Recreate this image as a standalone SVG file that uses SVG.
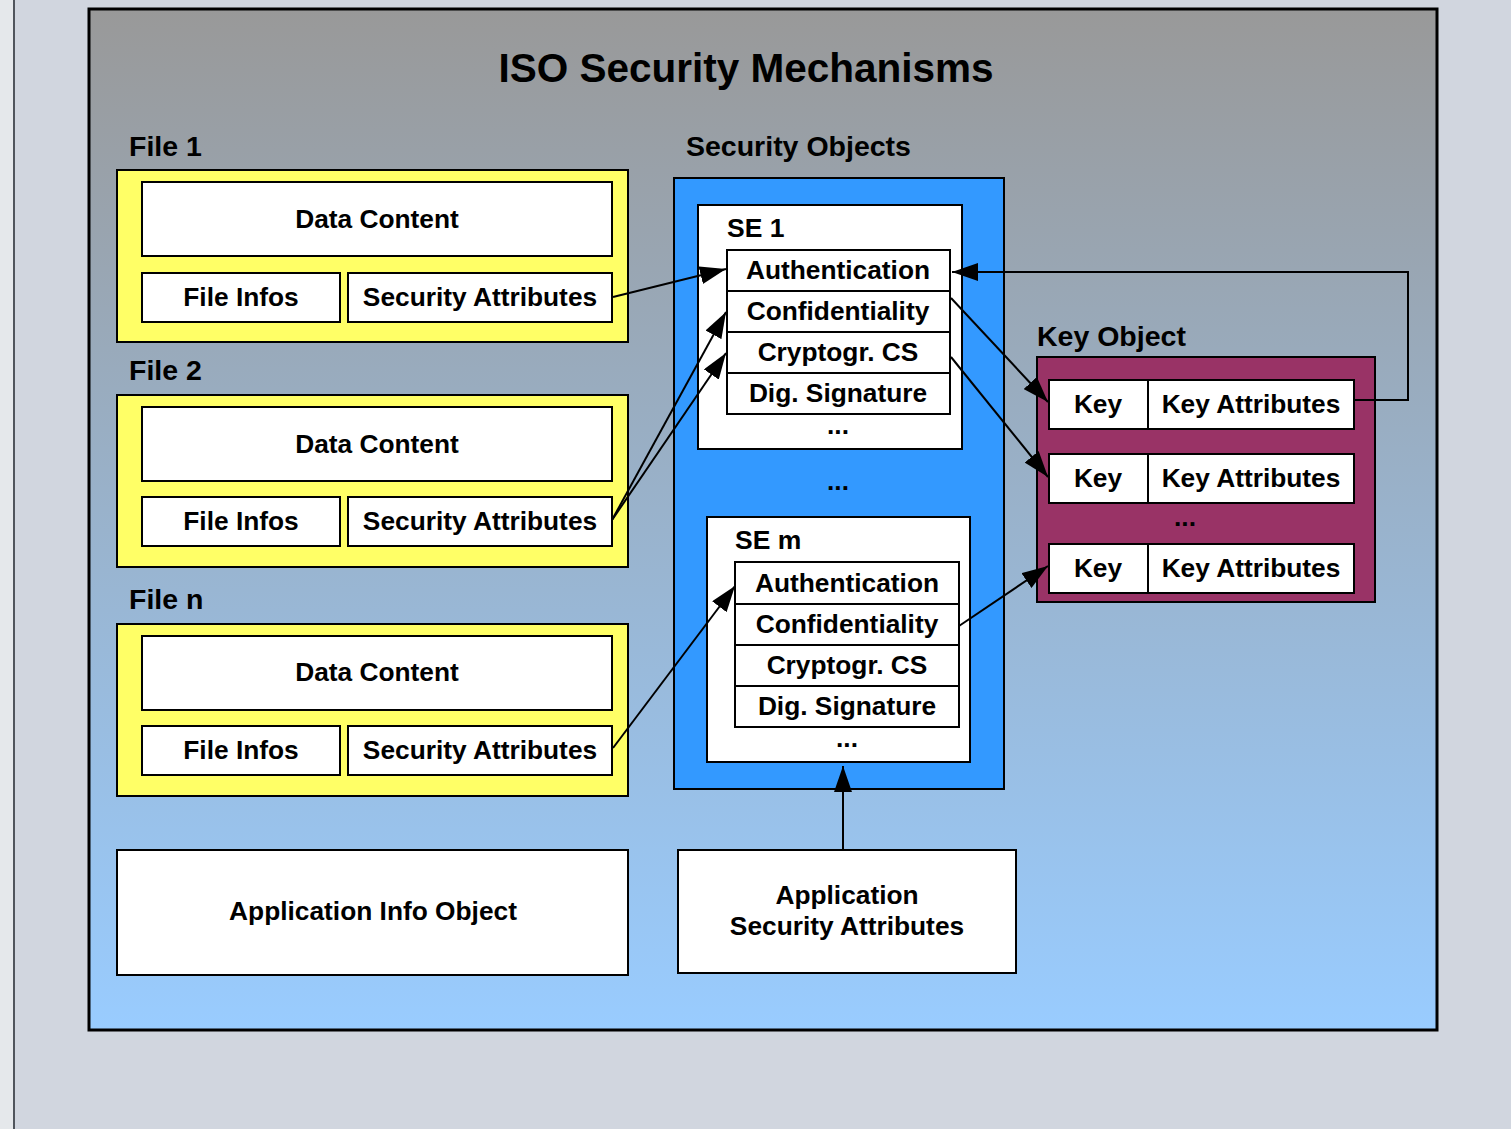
<svg xmlns="http://www.w3.org/2000/svg" width="1511" height="1129" viewBox="0 0 1511 1129">
  <defs>
    <linearGradient id="bgGrad" x1="0" y1="0" x2="0" y2="1">
      <stop offset="0" stop-color="#999999"/>
      <stop offset="1" stop-color="#99ccff"/>
    </linearGradient>
    <marker id="arrow" viewBox="0 0 26 18" refX="26" refY="9" markerWidth="26" markerHeight="18" markerUnits="userSpaceOnUse" orient="auto">
      <path d="M0,0 L26,9 L0,18 Z" fill="#000"/>
    </marker>
    <style>
      text { font-family: "Liberation Sans", Arial, sans-serif; font-weight: bold; fill: #000; }
      .title { font-size: 40.5px; text-anchor: middle; }
      .label { font-size: 28.5px; }
      .cell { font-size: 26.3px; text-anchor: middle; }
      .box { fill: #fff; stroke: #000; stroke-width: 2; }
      .file { fill: #ffff66; stroke: #000; stroke-width: 2; }
      .conn { fill: none; stroke: #000; stroke-width: 2; }
    </style>
  </defs>

  <!-- page background -->
  <rect x="0" y="0" width="1511" height="1129" fill="#d1d6df"/>
  <rect x="0" y="0" width="13" height="1129" fill="#e5e8eb"/>
  <rect x="13" y="0" width="2" height="1129" fill="#50555c"/>

  <!-- main frame -->
  <rect x="89" y="9" width="1348" height="1021" fill="url(#bgGrad)" stroke="#000" stroke-width="3"/>
  <text class="title" x="746" y="82">ISO Security Mechanisms</text>

  <!-- File 1 -->
  <g id="file1">
    <text class="label" x="129" y="156">File 1</text>
    <rect class="file" x="117" y="170" width="511" height="172"/>
    <rect class="box" x="142" y="182" width="470" height="74"/>
    <text class="cell" x="377" y="228">Data Content</text>
    <rect class="box" x="142" y="273" width="198" height="49"/>
    <text class="cell" x="241" y="306">File Infos</text>
    <rect class="box" x="348" y="273" width="264" height="49"/>
    <text class="cell" x="480" y="306">Security Attributes</text>
  </g>

  <!-- File 2 -->
  <g id="file2">
    <text class="label" x="129" y="380">File 2</text>
    <rect class="file" x="117" y="395" width="511" height="172"/>
    <rect class="box" x="142" y="407" width="470" height="74"/>
    <text class="cell" x="377" y="453">Data Content</text>
    <rect class="box" x="142" y="497" width="198" height="49"/>
    <text class="cell" x="241" y="530">File Infos</text>
    <rect class="box" x="348" y="497" width="264" height="49"/>
    <text class="cell" x="480" y="530">Security Attributes</text>
  </g>

  <!-- File n -->
  <g id="filen">
    <text class="label" x="129" y="609">File n</text>
    <rect class="file" x="117" y="624" width="511" height="172"/>
    <rect class="box" x="142" y="636" width="470" height="74"/>
    <text class="cell" x="377" y="681">Data Content</text>
    <rect class="box" x="142" y="726" width="198" height="49"/>
    <text class="cell" x="241" y="759">File Infos</text>
    <rect class="box" x="348" y="726" width="264" height="49"/>
    <text class="cell" x="480" y="759">Security Attributes</text>
  </g>

  <!-- Security Objects container -->
  <g id="security-objects">
    <text class="label" x="686" y="156">Security Objects</text>
    <rect x="674" y="178" width="330" height="611" fill="#3399ff" stroke="#000" stroke-width="2"/>
    <text class="cell" x="838" y="490">...</text>
  </g>

  <!-- SE 1 -->
  <g id="se1">
    <rect class="box" x="698" y="205" width="264" height="244"/>
    <text x="727" y="237" font-size="26.5">SE 1</text>
    <rect class="box" x="727" y="250" width="223" height="41"/>
    <text class="cell" x="838" y="279">Authentication</text>
    <rect class="box" x="727" y="291" width="223" height="41"/>
    <text class="cell" x="838" y="320">Confidentiality</text>
    <rect class="box" x="727" y="332" width="223" height="41"/>
    <text class="cell" x="838" y="361">Cryptogr. CS</text>
    <rect class="box" x="727" y="373" width="223" height="41"/>
    <text class="cell" x="838" y="402">Dig. Signature</text>
    <text class="cell" x="838" y="434">...</text>
  </g>

  <!-- SE m -->
  <g id="sem">
    <rect class="box" x="707" y="517" width="263" height="245"/>
    <text x="735" y="549" font-size="26.5">SE m</text>
    <rect class="box" x="735" y="562" width="224" height="42"/>
    <text class="cell" x="847" y="592">Authentication</text>
    <rect class="box" x="735" y="604" width="224" height="41"/>
    <text class="cell" x="847" y="633">Confidentiality</text>
    <rect class="box" x="735" y="645" width="224" height="41"/>
    <text class="cell" x="847" y="674">Cryptogr. CS</text>
    <rect class="box" x="735" y="686" width="224" height="41"/>
    <text class="cell" x="847" y="715">Dig. Signature</text>
    <text class="cell" x="847" y="747">...</text>
  </g>

  <!-- Key Object -->
  <g id="key-object">
    <text class="label" x="1037" y="346">Key Object</text>
    <rect x="1037" y="357" width="338" height="245" fill="#993366" stroke="#000" stroke-width="2"/>
    <rect class="box" x="1049" y="380" width="99" height="49"/>
    <text class="cell" x="1098" y="413">Key</text>
    <rect class="box" x="1148" y="380" width="206" height="49"/>
    <text class="cell" x="1251" y="413">Key Attributes</text>
    <rect class="box" x="1049" y="454" width="99" height="49"/>
    <text class="cell" x="1098" y="487">Key</text>
    <rect class="box" x="1148" y="454" width="206" height="49"/>
    <text class="cell" x="1251" y="487">Key Attributes</text>
    <text class="cell" x="1185" y="526">...</text>
    <rect class="box" x="1049" y="544" width="99" height="49"/>
    <text class="cell" x="1098" y="577">Key</text>
    <rect class="box" x="1148" y="544" width="206" height="49"/>
    <text class="cell" x="1251" y="577">Key Attributes</text>
  </g>

  <!-- Application objects -->
  <g id="app-info">
    <rect class="box" x="117" y="850" width="511" height="125"/>
    <text class="cell" x="373" y="920">Application Info Object</text>
  </g>
  <g id="app-security">
    <rect class="box" x="678" y="850" width="338" height="123"/>
    <text class="cell" x="847" y="904">Application</text>
    <text class="cell" x="847" y="935">Security Attributes</text>
  </g>

  <!-- connectors -->
  <g id="connectors">
    <line class="conn" x1="613" y1="297" x2="726" y2="269" marker-end="url(#arrow)"/>
    <line class="conn" x1="612" y1="520" x2="726" y2="312" marker-end="url(#arrow)"/>
    <line class="conn" x1="612" y1="520" x2="726" y2="353" marker-end="url(#arrow)"/>
    <line class="conn" x1="613" y1="748" x2="735" y2="586" marker-end="url(#arrow)"/>
    <line class="conn" x1="951" y1="298" x2="1048" y2="402" marker-end="url(#arrow)"/>
    <line class="conn" x1="951" y1="357" x2="1048" y2="477" marker-end="url(#arrow)"/>
    <line class="conn" x1="959" y1="626" x2="1048" y2="566" marker-end="url(#arrow)"/>
    <polyline class="conn" points="1354,400 1408,400 1408,272 952,272" marker-end="url(#arrow)"/>
    <line class="conn" x1="843" y1="850" x2="843" y2="766" marker-end="url(#arrow)"/>
  </g>
</svg>
